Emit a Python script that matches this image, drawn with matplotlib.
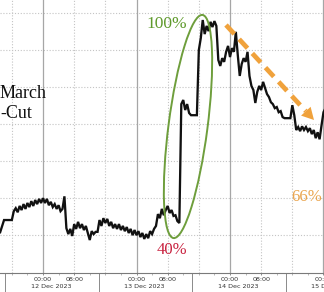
import numpy as np
import pandas as pd
import matplotlib
matplotlib.use("Agg")
import matplotlib.pyplot as plt
import matplotlib.dates as mdates
from matplotlib.patches import Ellipse, Polygon

# ---------------- data ----------------
series_start = "2023-12-11 13:00"
series_freq = "30min"
# market-implied odds (%) of a March rate cut, sampled every 30 minutes
odds_pct = [
    40.8, 42.5, 44.1, 44.1, 44.1, 44.1, 44.1, 46.5, 47.3, 46.2,
    47.9, 46.8, 48.4, 47.1, 48.7, 47.6, 49.2, 47.9, 49.5, 48.4,
    49.8, 48.7, 50.0, 48.7, 49.8, 48.1, 49.0, 47.6, 48.4, 47.1,
    48.1, 46.5, 47.1, 50.5, 41.9, 40.3, 41.7, 39.8, 43.0, 41.7,
    43.6, 41.9, 43.0, 41.4, 42.5, 40.6, 38.7, 41.1, 40.3, 40.9,
    40.9, 44.1, 42.5, 44.6, 43.3, 44.4, 42.5, 43.6, 41.9, 43.0,
    41.7, 43.0, 41.4, 42.5, 41.1, 42.2, 40.6, 41.7, 40.0, 41.4,
    40.0, 41.1, 39.5, 40.6, 39.0, 40.3, 39.2, 41.1, 40.3, 41.7,
    42.5, 45.7, 44.6, 47.1, 45.4, 46.8, 47.9, 46.0, 46.8, 45.2,
    45.4, 43.8, 43.3, 75.4, 76.5, 73.8, 75.4, 73.0, 72.4, 72.4,
    72.4, 72.4, 90.0, 93.2, 98.1, 94.3, 96.5, 95.1, 97.6, 96.2,
    97.8, 96.5, 87.3, 85.7, 87.8, 86.8, 89.5, 91.1, 88.1, 90.5,
    89.5, 94.9, 88.6, 83.0, 86.2, 87.8, 86.8, 89.5, 83.0, 80.3,
    79.2, 75.7, 78.7, 80.3, 79.2, 81.4, 79.7, 78.1, 77.3, 75.9,
    75.4, 74.3, 74.6, 73.2, 73.5, 71.9, 71.6, 71.6, 71.6, 71.6,
    75.1, 72.4, 68.4, 69.2, 68.1, 69.4, 68.4, 69.2, 68.1, 68.9,
    67.3, 68.4, 66.2, 67.8, 65.9, 69.7, 73.2, 74.3,
]
times = pd.date_range(series_start, periods=len(odds_pct), freq=series_freq)

day_starts = ["2023-12-12", "2023-12-13", "2023-12-14", "2023-12-15"]
date_labels = ["12 Dec 2023", "13 Dec 2023", "14 Dec 2023", "15 Dec 2023"]
hour_labels = ["00:00", "08:00"]
y_grid_levels = [40, 50, 60, 70, 80, 90, 100]

label_100 = "100%"
label_40 = "40%"
label_66 = "66%"
title_lines = ["March", "-Cut"]

# ---------------- figure ----------------
W, H = 324, 292
fig = plt.figure(figsize=(W / 100, H / 100), dpi=100)
ax = fig.add_axes([0, 19 / H, 1, 273 / H])

ref = pd.Timestamp(day_starts[0])
x_left = ref + pd.Timedelta(hours=-11.04)
x_right = ref + pd.Timedelta(hours=72.13)
ax.set_xlim(x_left, x_right)
ax.set_ylim(29.8, 103.5)

for s in ["top", "right", "left"]:
    ax.spines[s].set_visible(False)
ax.spines["bottom"].set_color("#7a7a7a")
ax.spines["bottom"].set_linewidth(0.8)
ax.set_yticks([])

dot = (0, (1.0, 1.6))
for v in y_grid_levels:
    ax.axhline(v, color="#c4c4c4", lw=0.8, ls=dot, zorder=1)

midnights = [pd.Timestamp(d) for d in day_starts]
for m in midnights:
    ax.axvline(m, color="#a6a6a6", lw=0.9, zorder=1)
dotted_v = []
for m in [ref - pd.Timedelta(days=1)] + midnights[:-1]:
    for hh in (8, 16):
        dotted_v.append(m + pd.Timedelta(hours=hh))
for d in dotted_v:
    ax.axvline(d, color="#c4c4c4", lw=0.8, ls=dot, zorder=1)

# ticks
major = []
labels = []
for m in midnights:
    major.append(m)
    labels.append(hour_labels[0])
    if m != midnights[-1]:
        major.append(m + pd.Timedelta(hours=8))
        labels.append(hour_labels[1])
ax.set_xticks(major)
ax.set_xticklabels(labels)
ax.xaxis.set_minor_locator(mdates.HourLocator(byhour=range(0, 24, 4)))
ax.tick_params(axis="x", which="major", labelsize=4.6, length=1.6, pad=1.2,
               color="#7a7a7a", labelcolor="#333333", width=0.6)
ax.tick_params(axis="x", which="minor", length=1.2, color="#9a9a9a", width=0.5)

trans = ax.get_xaxis_transform()
for m, lab in zip(midnights, date_labels):
    ax.text(m + pd.Timedelta(hours=2), -0.051, lab, transform=trans,
            ha="center", va="center", fontsize=4.6, color="#333333",
            family="DejaVu Sans", clip_on=False)
for m in [ref - pd.Timedelta(days=1)] + midnights[:-1]:
    sep = m + pd.Timedelta(hours=14.25)
    ax.plot([sep, sep], [0, -0.075], transform=trans, color="#8a8a8a",
            lw=0.7, clip_on=False)

# line
ax.plot(times, odds_pct, color="#111111", lw=1.65, zorder=3,
        solid_joinstyle="miter")

# ---------------- annotations (pixel space) ----------------
def inch(px, py):
    return (px / 100.0, (H - py) / 100.0)

ell = Ellipse(inch(188, 126.5), width=0.39, height=2.25, angle=-7.4,
              transform=fig.dpi_scale_trans, fill=False,
              edgecolor="#6e9e3c", lw=1.4, zorder=5)
fig.add_artist(ell)

# orange dashed arrow
p0 = np.array([226.0, 25.0])
tip = np.array([314.0, 120.0])
u = (tip - p0) / np.linalg.norm(tip - p0)
nrm = np.array([-u[1], u[0]])
base = tip - 12 * u
line_pts = np.array([inch(*p0), inch(*base)])
fig.add_artist(plt.Line2D(line_pts[:, 0], line_pts[:, 1],
                          transform=fig.dpi_scale_trans, color="#f0a23c",
                          lw=3.4, ls=(0, (2.6, 1.5)), solid_capstyle="butt",
                          dash_capstyle="butt", zorder=6))
head = [inch(*tip), inch(*(base + 6.5 * nrm)), inch(*(base - 6.5 * nrm))]
fig.add_artist(Polygon(head, closed=True, transform=fig.dpi_scale_trans,
                       facecolor="#f0a23c", edgecolor="none", zorder=6))

serif = ["Liberation Serif", "DejaVu Serif"]
fig.text(167 / W, 1 - 24 / H, label_100, ha="center", va="center",
         fontsize=12.5, color="#5f9a2c", family=serif)
fig.text(172 / W, 1 - 250 / H, label_40, ha="center", va="center",
         fontsize=12, color="#c8203e", family=serif)
fig.text(291 / W, 1 - 197 / H, label_66, ha="left", va="center",
         fontsize=12, color="#eaa54e", family=serif)
fig.text(0, 1 - 93 / H, title_lines[0], ha="left", va="center",
         fontsize=13, color="#111111", family=serif)
fig.text(0, 1 - 114 / H, title_lines[1], ha="left", va="center",
         fontsize=13, color="#111111", family=serif)

fig.savefig("out.png", dpi=100)
